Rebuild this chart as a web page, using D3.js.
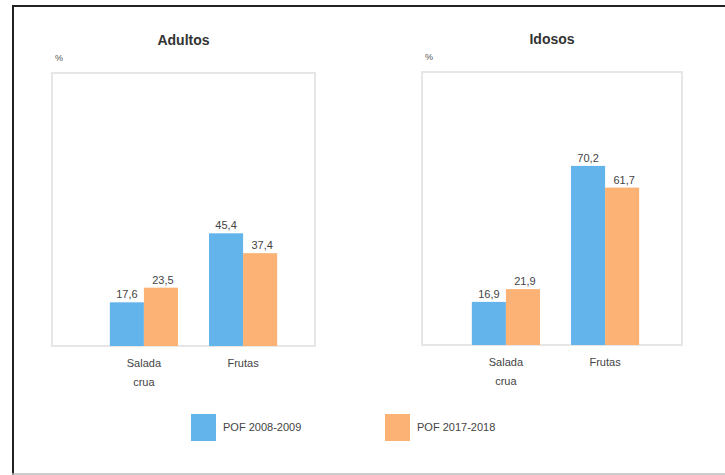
<!DOCTYPE html>
<html>
<head>
<meta charset="utf-8">
<script src="https://cdn.jsdelivr.net/npm/d3@7"></script>
<style>
  body { margin: 0; background: #fff; }
  svg { font-family: 'Liberation Sans', Arial, sans-serif; }
</style>
</head>
<body>
<svg class="pof" width="725" height="475"></svg>
<script>
const categories = ["Salada crua", "Frutas"];
const seriesNames = ["POF 2008-2009", "POF 2017-2018"];
const panelTitles = ["Adultos", "Idosos"];
const adultos = [[17.6, 23.5], [45.4, 37.4]];   // [categoria][série]
const idosos = [[16.9, 21.9], [70.2, 61.7]];
const yMax = [110, 107];

const colors = ["#62b4ea", "#fbb274"];
const svg = d3.select('svg.pof');

// moldura externa
svg.append('line').attr('x1', 12).attr('x2', 725).attr('y1', 6).attr('y2', 6)
  .style('stroke', '#222').style('stroke-width', 2);
svg.append('line').attr('x1', 13).attr('x2', 13).attr('y1', 5).attr('y2', 475)
  .style('stroke', '#222').style('stroke-width', 2);
svg.append('line').attr('x1', 12).attr('x2', 725).attr('y1', 474).attr('y2', 474)
  .style('stroke', '#bbb').style('stroke-width', 1.5);

const panels = [
  {title: panelTitles[0], values: adultos, max: yMax[0], left: 52, top: 73, width: 263, start: 38},
  {title: panelTitles[1], values: idosos, max: yMax[1], left: 422, top: 72, width: 260, start: 30}
];
const plotHeight = 273;

panels.forEach(p => {
  const g = svg.append('g').attr('transform', `translate(${p.left}, ${p.top})`);

  g.append('rect')
    .attr('x', 0).attr('y', 0)
    .attr('width', p.width).attr('height', plotHeight)
    .style('fill', 'none').style('stroke', '#e6e6e6').style('stroke-width', 2);

  g.append('text')
    .text(p.title)
    .attr('x', p.width / 2)
    .attr('y', -28)
    .attr('text-anchor', 'middle')
    .style('font-size', '14px').style('font-weight', 'bold').style('fill', '#333');

  g.append('text')
    .text('%')
    .attr('x', 3).attr('y', -12)
    .style('font-size', '9px').style('fill', '#555');

  const x = d3.scaleBand()
    .domain(categories)
    .range([p.start, p.start + 207])
    .paddingInner(0.313)
    .paddingOuter(0.2);

  const xs = d3.scaleBand()
    .domain(seriesNames)
    .range([0, x.bandwidth()]);

  const y = d3.scaleLinear()
    .domain([0, p.max])
    .range([plotHeight, 0]);

  const catG = g.selectAll('g.cat')
    .data(categories)
    .enter()
    .append('g')
    .attr('class', 'cat')
    .attr('transform', d => `translate(${x(d)}, 0)`);

  const cellData = (d, i) => p.values[i].map((v, j) => ({serie: seriesNames[j], value: v, j}));

  catG.selectAll('rect.bar')
    .data(cellData)
    .enter()
    .append('rect')
    .attr('class', 'bar')
    .attr('x', d => xs(d.serie))
    .attr('y', d => y(d.value))
    .attr('width', xs.bandwidth())
    .attr('height', d => plotHeight - y(d.value))
    .style('fill', d => colors[d.j]);

  catG.selectAll('text.val')
    .data(cellData)
    .enter()
    .append('text')
    .attr('class', 'val')
    .text(d => d3.format('.1f')(d.value).replace('.', ','))
    .attr('x', d => xs(d.serie) + xs.bandwidth() / 2 + (d.j == 1 ? 2 : 0))
    .attr('y', d => y(d.value) - 4)
    .attr('text-anchor', 'middle')
    .style('font-size', '11px').style('fill', '#444');

  // rótulos das categorias (quebra em duas linhas)
  catG.append('text')
    .attr('text-anchor', 'middle')
    .style('font-size', '11px').style('fill', '#444')
    .selectAll('tspan')
    .data(d => d == "Salada crua" ? ["Salada", "crua"] : [d])
    .enter()
    .append('tspan')
    .attr('x', x.bandwidth() / 2)
    .attr('y', (d, i) => plotHeight + 21 + i * 19)
    .text(d => d);
});

// legenda
const legend = svg.selectAll('g.legend')
  .data(seriesNames)
  .enter()
  .append('g')
  .attr('class', 'legend')
  .attr('transform', (d, i) => `translate(${191 + i * 194}, 414)`);

legend.append('rect')
  .attr('width', 25).attr('height', 27)
  .style('fill', (d, i) => colors[i]);

legend.append('text')
  .text(d => d)
  .attr('x', 32).attr('y', 17)
  .style('font-size', '11px').style('fill', '#444');
</script>
</body>
</html>
